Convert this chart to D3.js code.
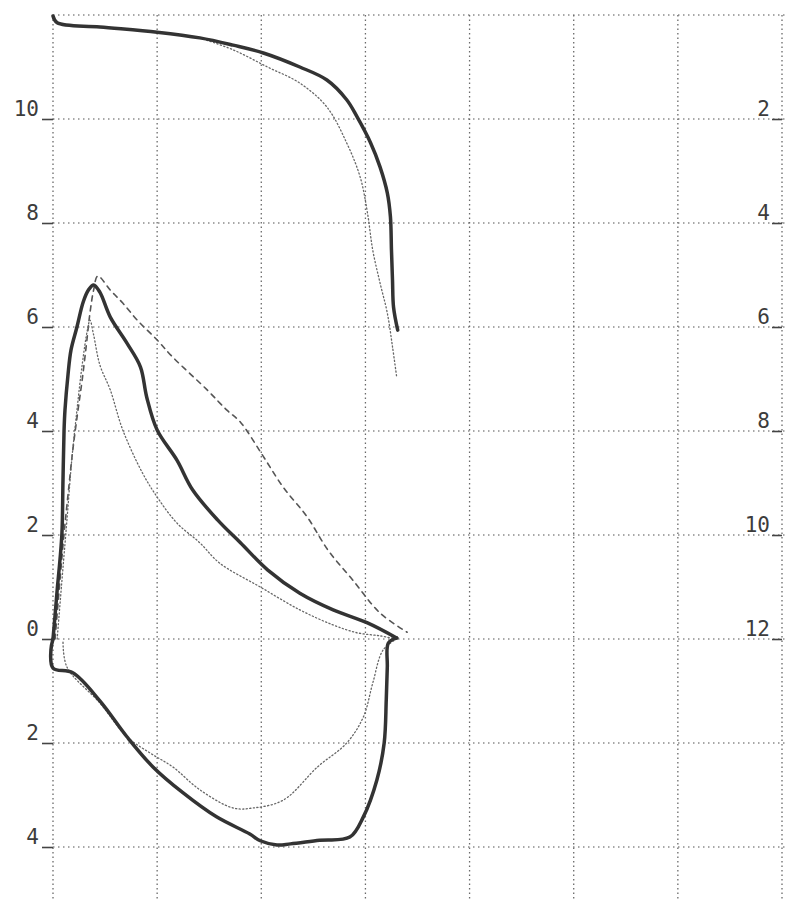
<!DOCTYPE html>
<html>
<head>
<meta charset="utf-8">
<script src="https://cdn.jsdelivr.net/npm/d3@7/dist/d3.min.js"></script>
<style>
  html, body { margin: 0; padding: 0; background: #fff; }
  svg { display: block; }
  .tick text { font-family: "DejaVu Sans Mono", "Liberation Mono", monospace; fill: #3c3c3c; }
</style>
</head>
<body>
<svg id="chart" width="788" height="901"></svg>
<script>
// Grid positions (volume, L) and flow gridlines (L/s)
const volumeGrid = [0, 1, 2, 3, 4, 5, 6, 7];
const flowGrid = [12, 10, 8, 6, 4, 2, 0, -2, -4];
const flowTicks = [10, 8, 6, 4, 2, 0, -2, -4];
// Right-hand volume scale for the volume-time trace (runs downward)
const volumeTicks = [2, 4, 6, 8, 10, 12];

// Measured expiratory limb [volume, flow]
const measuredExp = [
  [0, 0], [0.02, 0.46], [0.04, 0.94], [0.067, 1.52], [0.086, 2.04], [0.096, 3.06],
  [0.106, 4.0], [0.115, 4.4], [0.144, 5.08], [0.173, 5.56], [0.23, 6.0], [0.29, 6.48],
  [0.34, 6.71], [0.39, 6.81], [0.45, 6.67], [0.55, 6.19], [0.71, 5.69], [0.84, 5.23],
  [0.9, 4.65], [1.0, 4.02], [1.19, 3.44], [1.34, 2.87], [1.58, 2.29], [1.8, 1.85],
  [2.06, 1.33], [2.37, 0.88], [2.69, 0.56], [3.02, 0.31], [3.3, 0.02]
];
// Measured inspiratory limb [volume, flow]
const measuredInsp = [
  [3.3, 0.02], [3.22, -0.08], [3.21, -0.54], [3.2, -1.17], [3.18, -2.0], [3.11, -2.71],
  [2.98, -3.42], [2.85, -3.81], [2.56, -3.87], [2.28, -3.94], [2.15, -3.96], [1.99, -3.88],
  [1.89, -3.75], [1.57, -3.42], [1.25, -2.96], [0.96, -2.46], [0.71, -1.88], [0.45, -1.19],
  [0.19, -0.65], [0, -0.56], [-0.02, -0.21], [0, 0]
];
// Second expiratory trace (dashed)
const dashedExp = [
  [0.02, 0], [0.067, 1.13], [0.106, 2.02], [0.144, 2.77], [0.19, 3.63], [0.24, 4.4],
  [0.28, 4.98], [0.32, 5.65], [0.355, 6.27], [0.39, 6.71], [0.43, 6.98], [0.55, 6.71],
  [0.67, 6.46], [0.81, 6.13], [1.0, 5.75], [1.15, 5.42], [1.48, 4.79], [1.67, 4.4],
  [1.8, 4.17], [2.01, 3.54], [2.21, 2.92], [2.44, 2.35], [2.64, 1.71], [2.88, 1.13],
  [3.14, 0.5], [3.4, 0.13]
];
// Reference loop (dotted), expiratory and inspiratory limbs
const refExp = [
  [0.04, 0], [0.086, 1.13], [0.134, 2.29], [0.18, 3.44], [0.23, 4.4], [0.28, 5.27],
  [0.33, 5.94], [0.355, 6.13], [0.39, 5.85], [0.45, 5.27], [0.55, 4.79], [0.67, 4.02],
  [0.86, 3.19], [1.0, 2.73], [1.19, 2.23], [1.41, 1.85], [1.6, 1.46], [1.99, 1.0],
  [2.37, 0.56], [2.69, 0.27], [2.92, 0.12], [3.14, 0.06], [3.3, 0]
];
const refInsp = [
  [3.3, 0], [3.17, -0.21], [3.07, -0.85], [2.98, -1.5], [2.82, -2.0], [2.54, -2.46],
  [2.21, -3.1], [1.92, -3.25], [1.73, -3.25], [1.41, -2.9], [1.15, -2.46], [0.93, -2.19],
  [0.71, -1.88], [0.45, -1.23], [0.134, -0.54], [0.096, -0.02]
];
// Volume-time traces [time, volume] on the right-hand scale
const measuredVT = [
  [0, 0.02], [0.04, 0.15], [0.45, 0.23], [1.0, 0.33], [1.41, 0.44], [1.73, 0.58],
  [2.02, 0.73], [2.37, 1.0], [2.63, 1.25], [2.82, 1.63], [2.92, 1.96], [3.05, 2.46],
  [3.14, 2.92], [3.21, 3.42], [3.24, 3.88], [3.25, 4.52], [3.26, 5.1], [3.27, 5.62],
  [3.31, 6.06]
];
const refVT = [
  [1.41, 0.44], [1.73, 0.67], [2.06, 1.0], [2.37, 1.31], [2.63, 1.77], [2.82, 2.46],
  [2.95, 3.12], [3.02, 3.81], [3.07, 4.52], [3.14, 5.15], [3.21, 5.73], [3.26, 6.38],
  [3.3, 6.96]
];

const svg = d3.select("#chart");
const x = d3.scaleLinear().domain([0, 7]).range([53, 782]);
const y = d3.scaleLinear().domain([-4, 12]).range([847, 15]);
const yV = d3.scaleLinear().domain([0, 12]).range([15, 639]);

// Grid
const grid = svg.append("g");
grid.selectAll("line.h").data(flowGrid).join("line")
  .attr("x1", x(0)).attr("x2", 788)
  .attr("y1", d => y(d)).attr("y2", d => y(d))
  .attr("stroke", "#8c8c8c").attr("stroke-width", 1.3)
  .attr("stroke-dasharray", "1.5,3.5");
grid.selectAll("line.v").data(volumeGrid).join("line")
  .attr("x1", d => x(d)).attr("x2", d => x(d))
  .attr("y1", y(12)).attr("y2", 901)
  .attr("stroke", "#6a6a6a").attr("stroke-width", 1.3)
  .attr("stroke-dasharray", "1.5,3");

// Left flow axis: labels sit just above each tick
const leftAxis = svg.append("g").attr("transform", `translate(${x(0)},0)`)
  .call(d3.axisLeft(y).tickValues(flowTicks).tickSize(11).tickPadding(3)
    .tickFormat(d => String(Math.abs(d))));
leftAxis.select(".domain").remove();
leftAxis.selectAll(".tick line").attr("stroke", "#444").attr("stroke-width", 1.6);
leftAxis.selectAll(".tick text").attr("font-size", 21).attr("dy", 0).attr("y", -4);

// Right volume axis
const rightAxis = svg.append("g").attr("transform", `translate(${x(7)},0)`)
  .call(d3.axisLeft(yV).tickValues(volumeTicks).tickSize(10).tickPadding(2));
rightAxis.select(".domain").remove();
rightAxis.selectAll(".tick line").attr("stroke", "#444").attr("stroke-width", 1.6);
rightAxis.selectAll(".tick text").attr("font-size", 21).attr("dy", 0).attr("y", -4);

// Traces
const flowLine = d3.line().x(d => x(d[0])).y(d => y(d[1])).curve(d3.curveCatmullRom.alpha(0.5));
const vtLine = d3.line().x(d => x(d[0])).y(d => yV(d[1])).curve(d3.curveCatmullRom.alpha(0.5));
const traces = svg.append("g").attr("fill", "none").attr("stroke-linejoin", "round").attr("stroke-linecap", "round");

traces.append("path").attr("d", flowLine(dashedExp))
  .attr("stroke", "#555").attr("stroke-width", 1.6).attr("stroke-dasharray", "5,5");
traces.append("path").attr("d", flowLine(refExp))
  .attr("stroke", "#666").attr("stroke-width", 1.3).attr("stroke-dasharray", "1.2,2.4");
traces.append("path").attr("d", flowLine(refInsp))
  .attr("stroke", "#666").attr("stroke-width", 1.3).attr("stroke-dasharray", "1.2,2.4");
traces.append("path").attr("d", vtLine(refVT))
  .attr("stroke", "#666").attr("stroke-width", 1.3).attr("stroke-dasharray", "1.2,2.4");

traces.append("path").attr("d", flowLine(measuredExp))
  .attr("stroke", "#333").attr("stroke-width", 3.5);
traces.append("path").attr("d", flowLine(measuredInsp))
  .attr("stroke", "#333").attr("stroke-width", 3.5);
traces.append("path").attr("d", vtLine(measuredVT))
  .attr("stroke", "#333").attr("stroke-width", 3.5);
</script>
</body>
</html>
